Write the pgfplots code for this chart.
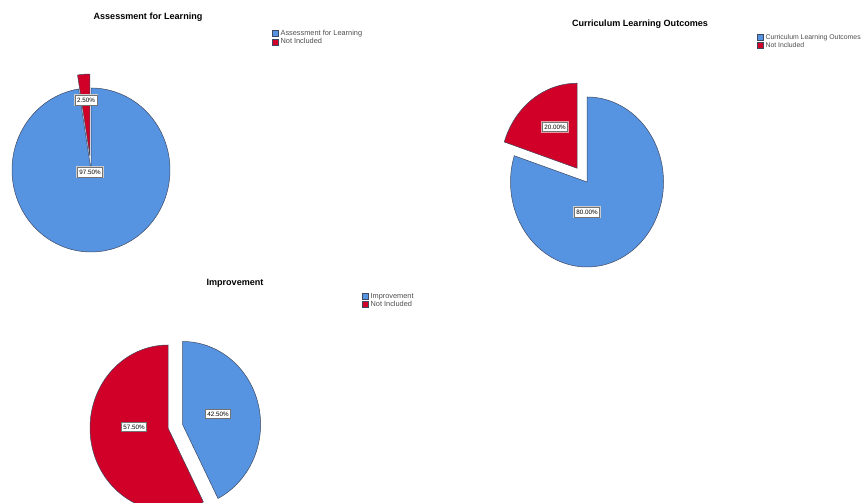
\documentclass[border=0pt]{standalone}
\usepackage{fontspec}
\setmainfont{Liberation Sans}
\usepackage{pgfplots}
\pgfplotsset{compat=1.18}

\definecolor{spssblue}{RGB}{86,148,226}
\definecolor{spssred}{RGB}{208,0,40}
\definecolor{edge}{RGB}{62,72,96}

% one pie slice: #1 colour, #2 cx, #3 cy, #4 rx, #5 ry, #6 start (%), #7 share (%), #8 explode
\newcommand\pieslice[8]{%
  \pgfmathsetmacro\pieta{3.6*#6}%
  \pgfmathsetmacro\pietb{3.6*(#6+#7)}%
  \pgfmathsetmacro\pietm{(\pieta+\pietb)/2}%
  \pgfmathsetmacro\pieox{#2+#8*sin(\pietm)}%
  \pgfmathsetmacro\pieoy{#3+#8*cos(\pietm)}%
  \edef\doslice{\noexpand\addplot[fill=#1, draw=edge, line width=0.5bp,
      domain=\pieta:\pietb, samples=120, variable=\noexpand\t]
    ({\pieox+#4*sin(\noexpand\t)}, {\pieoy+#5*cos(\noexpand\t)})
    -- (axis cs:\pieox,\pieoy) -- cycle;}%
  \doslice
}

\pgfplotsset{
  piebase/.style={
    width=864bp, height=503bp, scale only axis,
    xmin=0, xmax=864, ymin=0, ymax=503,
    hide axis, clip=true,
    legend cell align=left,
    legend image code/.code={\draw[##1, draw=edge, line width=0.4bp] (0bp,-3bp) rectangle (6bp,3bp);},
    legend style={draw=none, fill=none, inner sep=0pt, anchor=north west,
      font=\fontsize{7.4}{8}\selectfont, text=black!70,
      row sep=-2.6bp, /tikz/every even column/.style={column sep=-1bp}},
  },
}
\tikzset{
  lbl/.style={fill=white, draw=black!55, line width=0.5bp, inner xsep=2bp, inner ysep=2.6bp,
    font=\fontsize{6.3}{6}\selectfont,
    preaction={draw=white!80!black, line width=2.4bp}},
  lblplain/.style={fill=white, draw=black!55, line width=0.5bp, inner xsep=1.8bp, inner ysep=2.4bp,
    font=\fontsize{6.3}{6}\selectfont},
  ttl/.style={font=\fontsize{9.1}{10}\selectfont\bfseries},
}

\begin{document}
\begin{tikzpicture}
\useasboundingbox (0,0) rectangle (864bp,503bp);

% Assessment for Learning
\begin{axis}[piebase, legend style={at={(272/864,475/503)}}]
  \pieslice{spssblue}{91}{333}{79}{82}{0}{97.5}{0}
  \addlegendentry{Assessment for Learning}
  \pieslice{spssred}{91}{333}{79}{82}{97.5}{2.5}{14}
  \addlegendentry{Not Included}
  \node[lbl] at (axis cs:86,403) {2.50\%};
  \node[lbl] at (axis cs:90,331) {97.50\%};
  \node[ttl] at (axis cs:148,486) {Assessment for Learning};
\end{axis}

% Curriculum Learning Outcomes
\begin{axis}[piebase, legend style={at={(757/864,471/503)}, font=\fontsize{6.9}{8}\selectfont}]
  \pieslice{spssblue}{587}{321}{76.5}{85}{0}{80}{0}
  \addlegendentry{Curriculum Learning Outcomes}
  \pieslice{spssred}{587}{321}{76.5}{85}{80}{20}{17}
  \addlegendentry{Not Included}
  \node[lblplain, preaction={draw=spssred!40, line width=2.4bp}] at (axis cs:555,376) {20.00\%};
  \node[lbl] at (axis cs:587,291) {80.00\%};
  \node[ttl] at (axis cs:640,479) {Curriculum Learning Outcomes};
\end{axis}

% Improvement
\begin{axis}[piebase, legend style={at={(362/864,212/503)}}]
  \pieslice{spssblue}{168}{75}{78}{83}{0}{42.5}{15}
  \addlegendentry{Improvement}
  \pieslice{spssred}{168}{75}{78}{83}{42.5}{57.5}{0}
  \addlegendentry{Not Included}
  \node[lblplain] at (axis cs:218,89) {42.50\%};
  \node[lblplain] at (axis cs:134,76) {57.50\%};
  \node[ttl] at (axis cs:235,220) {Improvement};
\end{axis}
\end{tikzpicture}
\end{document}
